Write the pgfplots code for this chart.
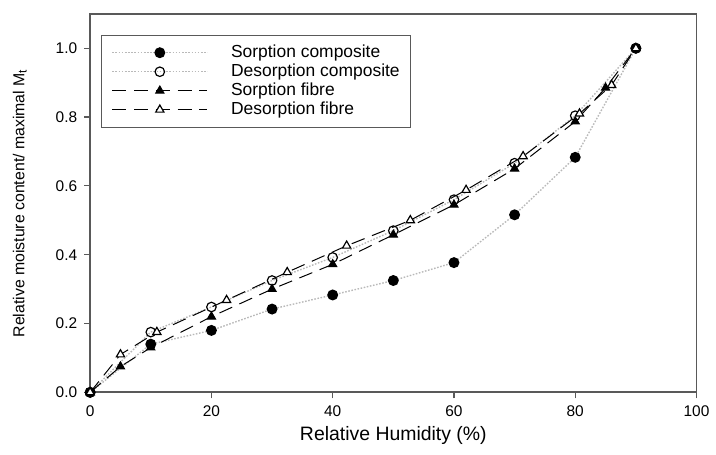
\documentclass[border=0pt]{standalone}
\usepackage{fontspec}
\setmainfont{Liberation Sans}
\usepackage{pgfplots}
\pgfplotsset{compat=1.18}
\begin{document}
\begin{tikzpicture}
\begin{axis}[
  name=ax,
  scale only axis,
  width=306pt, height=191pt,
  xmin=0, xmax=100, ymin=0, ymax=1.1,
  xtick={0,20,40,60,80,100},
  ytick={0,0.2,0.4,0.6,0.8,1.0},
  yticklabel style={/pgf/number format/.cd,fixed,fixed zerofill,precision=1},
  /pgf/number format/assume math mode=true,
  tick pos=left,
  tick align=outside,
  major tick length=3pt,
  tick style={gray!70!black, line width=0.6pt},
  axis line style={gray!70!black, line width=0.9pt},
  ticklabel style={font=\fontsize{7.8}{9}\selectfont},
  xlabel={Relative Humidity (\%)},
  ylabel={Relative moisture content/ maximal M\textsubscript{t}},
  xlabel style={font=\fontsize{9.8}{11}\selectfont, at={(axis description cs:0.5,-0.115)}, anchor=center},
  ylabel style={font=\fontsize{8}{10}\selectfont, at={(axis description cs:-0.116,0.5)}, anchor=center},
  legend style={at={(axis description cs:0.018,0.945)}, anchor=north west,
    draw=gray!70!black, line width=0.6pt,
    font=\fontsize{8.8}{9.5}\selectfont,
    cells={anchor=west},
    nodes={inner sep=0.6pt, text height=6.6pt, text depth=1.8pt},
    inner xsep=5pt, inner ysep=4pt,
    /tikz/every odd column/.append style={column sep=11pt}},
  legend image code/.code={\draw[mark repeat=2,mark phase=2] plot coordinates {(0pt,0pt)(24pt,0pt)(48pt,0pt)};},
  every axis plot/.append style={mark size=2.4pt},
]
\addplot[gray!55, line width=0.7pt, dash pattern=on 0.8pt off 0.8pt, mark=*, mark options={solid, fill=black, draw=black}]
 coordinates {(0,0) (10,0.14) (20,0.18) (30,0.242) (40,0.283) (50,0.325) (60,0.377) (70,0.516) (80,0.683) (90,1.0)};
\addlegendentry{Sorption composite}
\addplot[gray!55, line width=0.7pt, dash pattern=on 0.8pt off 0.8pt, mark=o, mark options={solid, fill=white, draw=black, line width=0.6pt}]
 coordinates {(0,0) (10,0.175) (20,0.248) (30,0.325) (40,0.392) (50,0.47) (60,0.56) (70,0.666) (80,0.804) (90,1.0)};
\addlegendentry{Desorption composite}
\addplot[black, line width=0.5pt, dash pattern=on 7pt off 4pt, mark=triangle*, mark options={solid, fill=black, draw=black}]
 coordinates {(0,0) (5,0.075) (10,0.13) (20,0.22) (30,0.30) (40,0.372) (50,0.458) (60,0.545) (70,0.65) (80,0.787) (85,0.885) (90,1.0)};
\addlegendentry{Sorption fibre}
\addplot[black, line width=0.5pt, dash pattern=on 7pt off 4pt, mark=triangle*, mark options={solid, fill=white, draw=black, line width=0.6pt}]
 coordinates {(0,0) (5,0.11) (11,0.175) (22.5,0.268) (32.5,0.349) (42.3,0.426) (52.8,0.50) (62,0.588) (71.4,0.686) (80.7,0.81) (86,0.893) (90,1.0)};
\addlegendentry{Desorption fibre}
\end{axis}
\path ([xshift=-45.5pt,yshift=-31.5pt]ax.south west) rectangle ([xshift=6.5pt,yshift=7pt]ax.north east);
\end{tikzpicture}
\end{document}
